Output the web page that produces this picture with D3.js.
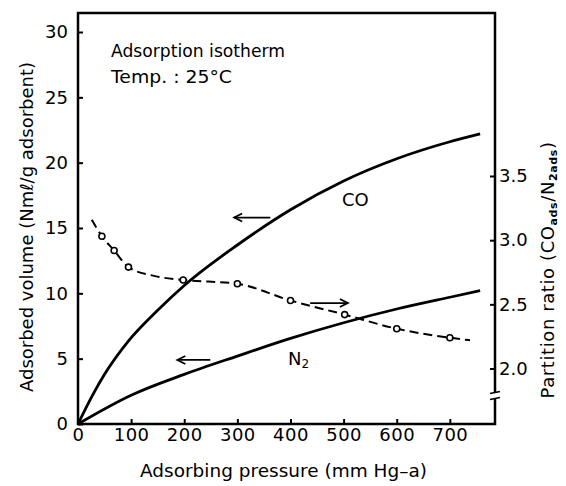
<!DOCTYPE html>
<html>
<head>
<meta charset="utf-8">
<script src="https://cdn.jsdelivr.net/npm/d3@7"></script>
<style>
body { margin: 0; background: #fff; }
text { font-family: "DejaVu Sans", sans-serif; fill: #000; }
</style>
</head>
<body>
<svg id="chart"></svg>
<script>
// adsorption isotherms, pressure in mm Hg-a, volume in Nml/g
var coPress = [0, 26, 50, 94, 150, 200, 300, 400, 500, 600, 700, 757];
var coVol   = [0, 2.1, 3.8, 6.3, 8.7, 10.6, 13.7, 16.4, 18.6, 20.3, 21.6, 22.2];
var n2Press = [0, 100, 200, 300, 400, 500, 600, 700, 757];
var n2Vol   = [0, 2.2, 3.8, 5.2, 6.55, 7.75, 8.8, 9.7, 10.2];

// partition ratio, measured points and the dashed curve
var ratioPress = [45, 68, 95, 198, 300, 400, 502, 600, 700];
var ratioVal   = [3.03, 2.92, 2.79, 2.69, 2.66, 2.53, 2.42, 2.31, 2.24];
var fitPress = [26, 45, 68, 95, 145, 198, 300, 400, 502, 600, 700, 738];
var fitVal   = [3.16, 3.03, 2.92, 2.79, 2.72, 2.69, 2.66, 2.53, 2.42, 2.31, 2.24, 2.22];

var xTicks = [0, 100, 200, 300, 400, 500, 600, 700];
var yTicks = [0, 5, 10, 15, 20, 25, 30];
var rTicks = [2.0, 2.5, 3.0, 3.5];

// arrows: from, to (pressure), level, which axis
var arrowFrom = [362, 249, 437];
var arrowTo   = [294, 187, 508];
var arrowLev  = [15.8, 4.9, 2.51];
var arrowAxis = ['left', 'left', 'right'];

var svg = d3.select('#chart').attr('width', 566).attr('height', 486);

var x = d3.scaleLinear().domain([0, 785]).range([78, 495]);
var y = d3.scaleLinear().domain([0, 30]).range([424, 32]);
var yr = d3.scaleLinear().domain([2.0, 3.5]).range([368.5, 176]);
var yTop = 13;

// axes
var xAxis = svg.append('g')
    .attr('transform', 'translate(0,' + y(0) + ')')
    .call(d3.axisBottom(x).tickValues(xTicks).tickSizeInner(-5).tickSizeOuter(0).tickPadding(4));
var yAxis = svg.append('g')
    .attr('transform', 'translate(' + x(0) + ',0)')
    .call(d3.axisLeft(y).tickValues(yTicks).tickSizeInner(-5).tickSizeOuter(0).tickPadding(10));
var rAxis = svg.append('g')
    .attr('transform', 'translate(' + x(785) + ',0)')
    .call(d3.axisRight(yr).tickValues(rTicks).tickFormat(d3.format('.1f')).tickSizeInner(-5).tickSizeOuter(0).tickPadding(4));

[xAxis, yAxis, rAxis].forEach(function(a) {
    a.select('.domain').remove();
    a.selectAll('line').attr('stroke', '#000').attr('stroke-width', 2);
    a.selectAll('text').style('font-size', '18px').style('font-family', '"DejaVu Sans", sans-serif');
});
xAxis.selectAll('text').attr('letter-spacing', 0.5);

// frame
svg.append('path')
    .attr('d', 'M' + x(0) + ',' + yTop + 'L' + x(785) + ',' + yTop + 'L' + x(785) + ',' + y(0) +
        'L' + x(0) + ',' + y(0) + 'Z')
    .attr('fill', 'none')
    .attr('stroke', '#000')
    .attr('stroke-width', 2.5);

// break on right axis
var bY = yr(1.79);
svg.append('rect').attr('x', x(785) - 3).attr('y', bY - 3).attr('width', 6).attr('height', 6).attr('fill', '#fff');
[-3, 3].forEach(function(o) {
    svg.append('line')
	.attr('x1', x(785) - 5).attr('y1', bY + o + 1)
	.attr('x2', x(785) + 5).attr('y2', bY + o - 1)
	.attr('stroke', '#000').attr('stroke-width', 1.6);
});

// curves
var lineL = d3.line().x(function(d) { return x(d[0]); }).y(function(d) { return y(d[1]); }).curve(d3.curveMonotoneX);
var lineR = d3.line().x(function(d) { return x(d[0]); }).y(function(d) { return yr(d[1]); }).curve(d3.curveMonotoneX);

svg.append('path')
    .attr('d', lineL(d3.zip(coPress, coVol)))
    .attr('fill', 'none').attr('stroke', '#000').attr('stroke-width', 2.8);
svg.append('path')
    .attr('d', lineL(d3.zip(n2Press, n2Vol)))
    .attr('fill', 'none').attr('stroke', '#000').attr('stroke-width', 2.8);
svg.append('path')
    .attr('d', lineR(d3.zip(fitPress, fitVal)))
    .attr('fill', 'none').attr('stroke', '#000').attr('stroke-width', 2)
    .attr('stroke-dasharray', '9,5');

svg.selectAll('circle.pt')
    .data(d3.zip(ratioPress, ratioVal))
    .enter().append('circle')
    .attr('class', 'pt')
    .attr('cx', function(d) { return x(d[0]); })
    .attr('cy', function(d) { return yr(d[1]); })
    .attr('r', 3)
    .attr('fill', '#fff').attr('stroke', '#000').attr('stroke-width', 1.6);

// arrows
for (var i = 0; i < arrowFrom.length; i++) {
    var ay = arrowAxis[i] == 'left' ? y(arrowLev[i]) : yr(arrowLev[i]);
    var x1 = x(arrowFrom[i]), x2 = x(arrowTo[i]);
    var dir = x1 > x2 ? 1 : -1;
    svg.append('line')
	.attr('x1', x1).attr('y1', ay).attr('x2', x2).attr('y2', ay)
	.attr('stroke', '#000').attr('stroke-width', 1.8);
    svg.append('path')
	.attr('d', 'M' + (x2 + dir * 8) + ',' + (ay - 4) + 'L' + x2 + ',' + ay + 'L' + (x2 + dir * 8) + ',' + (ay + 4))
	.attr('fill', 'none').attr('stroke', '#000').attr('stroke-width', 1.8);
}

// labels
svg.append('text').attr('x', 111).attr('y', 57)
    .attr('textLength', 174).attr('lengthAdjust', 'spacingAndGlyphs')
    .style('font-size', '18px').text('Adsorption isotherm');
svg.append('text').attr('x', 111).attr('y', 83)
    .attr('textLength', 121).attr('lengthAdjust', 'spacingAndGlyphs')
    .style('font-size', '18px').text('Temp. : 25°C');

svg.append('text').attr('x', 342).attr('y', 206)
    .style('font-size', '18px').text('CO');
var n2 = svg.append('text').attr('x', 288).attr('y', 365).style('font-size', '18px');
n2.append('tspan').text('N');
n2.append('tspan').attr('dy', 3).style('font-size', '12px').text('2');

svg.append('text').attr('x', 283.5).attr('y', 477)
    .attr('text-anchor', 'middle')
    .attr('textLength', 287).attr('lengthAdjust', 'spacingAndGlyphs')
    .style('font-size', '18px').text('Adsorbing pressure (mm Hg\u2013a)');

svg.append('text')
    .attr('transform', 'translate(33,227) rotate(-90)')
    .attr('text-anchor', 'middle')
    .attr('textLength', 330).attr('lengthAdjust', 'spacingAndGlyphs')
    .style('font-size', '18px').text('Adsorbed volume (Nm\u2113/g adsorbent)');

var rt = svg.append('text')
    .attr('transform', 'translate(554,270) rotate(-90)')
    .attr('text-anchor', 'middle')
    .attr('letter-spacing', 0.6)
    .style('font-size', '18px');
rt.append('tspan').text('Partition ratio (CO');
rt.append('tspan').attr('dy', 3).style('font-size', '11px').style('font-weight', 'bold').text('ads');
rt.append('tspan').attr('dy', -3).text('/N');
rt.append('tspan').attr('dy', 3).style('font-size', '11px').style('font-weight', 'bold').text('2ads');
rt.append('tspan').attr('dy', -3).text(')');
</script>
</body>
</html>
